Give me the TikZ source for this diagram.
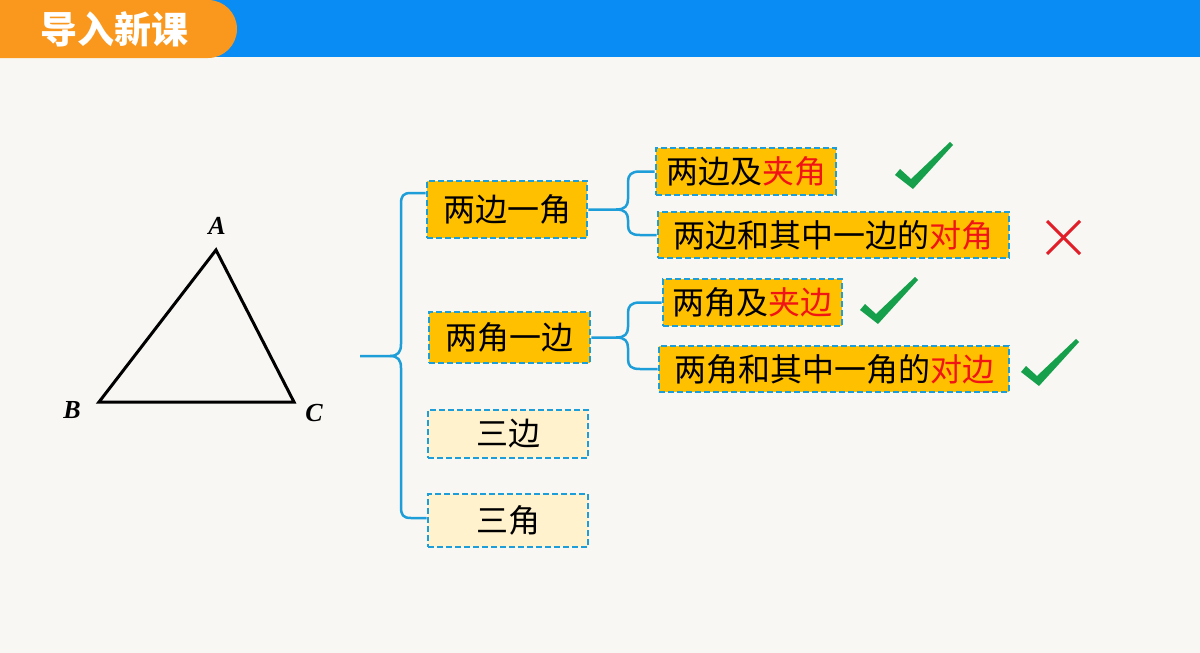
\documentclass[tikz,border=0pt]{standalone}
\usepackage{fontspec}
\newfontfamily\cjk{Noto Sans CJK SC}
\newfontfamily\lblfont{Liberation Serif}
\definecolor{bgc}{RGB}{248,247,243}
\definecolor{tabor}{RGB}{250,152,30}
\definecolor{bandbl}{RGB}{10,140,245}
\definecolor{gold}{RGB}{255,192,0}
\definecolor{pale}{RGB}{255,242,204}
\definecolor{bblue}{RGB}{30,158,216}
\definecolor{txtred}{RGB}{240,20,20}
\definecolor{okgreen}{RGB}{22,160,75}
\definecolor{xred}{RGB}{226,30,40}
\tikzset{
  x=1pt,y=-1pt,
  box/.style={rectangle,draw=bblue,dash pattern=on 6pt off 3pt,line width=2.8pt,inner sep=0pt,
    font=\cjk\fontsize{32}{36}\selectfont,text=black},
  goldbox/.style={box,fill=gold},
  palebox/.style={box,fill=pale},
  br/.style={draw=bblue,line width=2.5pt,line join=round},
  lbl/.style={font=\lblfont\fontsize{26}{26}\selectfont\bfseries\itshape,inner sep=0pt},
  okmark/.pic={\fill[okgreen] (-17,-11) -- (-12,-17) -- (-1,-7) -- (38,-44) -- (41,-41) -- (1,3) -- cycle;}
}
\begin{document}
\begin{tikzpicture}
\useasboundingbox (0,0) rectangle (1200,653);
\fill[bgc] (0,0) rectangle (1200,653);
% header
\fill[bandbl] (200,0) rectangle (1200,57);
\fill[tabor] (0,0) -- (208,0) arc[start angle=90,end angle=-90,x radius=29,y radius=-29] -- (0,58) -- cycle;
\node[font=\cjk\bfseries\fontsize{37}{40}\selectfont,text=white,inner sep=0pt] (title) at (114,29) {导入新课};
% triangle
\coordinate (A) at (216,250);
\coordinate (B) at (99,402);
\coordinate (C) at (294,402);
\draw[line width=3pt,line join=miter] (A) -- (B) -- (C) -- cycle;
\node[lbl] (la) at (217,226) {A};
\node[lbl] (lb) at (72,410) {B};
\node[lbl] (lc) at (314,413) {C};
% level 1 boxes
\node[goldbox,minimum width=160pt,minimum height=57pt] (a1) at (507,209.5) {两边一角};
\node[goldbox,minimum width=161pt,minimum height=51pt] (a2) at (509.5,337.5) {两角一边};
\node[palebox,minimum width=160pt,minimum height=48pt] (a3) at (508,434) {三边};
\node[palebox,minimum width=160pt,minimum height=53pt] (a4) at (508,520.5) {三角};
% level 2 boxes
\node[goldbox,minimum width=180pt,minimum height=47pt] (b1) at (746,171.5) {两边及{\color{txtred}夹角}};
\node[goldbox,minimum width=351pt,minimum height=46pt] (b2) at (833.5,235) {两边和其中一边的{\color{txtred}对角}};
\node[goldbox,minimum width=179pt,minimum height=47pt] (b3) at (752.5,302.5) {两角及{\color{txtred}夹边}};
\node[goldbox,minimum width=350pt,minimum height=46pt] (b4) at (834,369) {两角和其中一角的{\color{txtred}对边}};
% big brace
\coordinate (root) at (360,356);
\draw[br] ([yshift=16.5pt]a1.west) -- (411,193) .. controls (403,193) and (401,196) .. (401,204)
  -- (401,344) .. controls (401,352) and (398,356) .. (390,356) -- (root);
\draw[br] (390,356) .. controls (398,356) and (401,360) .. (401,368)
  -- (401,507) .. controls (401,515) and (403,518) .. (411,518) -- ([yshift=2.5pt]a4.west);
% small brace 1
\draw[br] (a1.east) -- (616,209.5) .. controls (625,209.5) and (628,206) .. (628,199)
  -- (628,182) .. controls (628,175) and (631,171.5) .. (640,171.5) -- (b1.west);
\draw[br] (616,209.5) .. controls (625,209.5) and (628,213) .. (628,220)
  -- (628,225) .. controls (628,232) and (631,235) .. (640,235) -- (b2.west);
% small brace 2
\draw[br] (a2.east) -- (616,337.5) .. controls (625,337.5) and (628,334) .. (628,327)
  -- (628,313) .. controls (628,306) and (631,302.5) .. (640,302.5) -- (b3.west);
\draw[br] (616,337.5) .. controls (625,337.5) and (628,341) .. (628,348)
  -- (628,359) .. controls (628,366) and (631,369) .. (640,369) -- (b4.west);
% marks
\pic (ok1) at (912,186) {okmark};
\pic (ok2) at (877,321) {okmark};
\pic (ok3) at (1038,383) {okmark};
\coordinate (x1) at (1047,221);
\coordinate (x2) at (1080,254);
\coordinate (x3) at (1080,221);
\coordinate (x4) at (1047,254);
\draw[xred,line width=3pt] (x1) -- (x2);
\draw[xred,line width=3pt] (x3) -- (x4);
\end{tikzpicture}
\end{document}
